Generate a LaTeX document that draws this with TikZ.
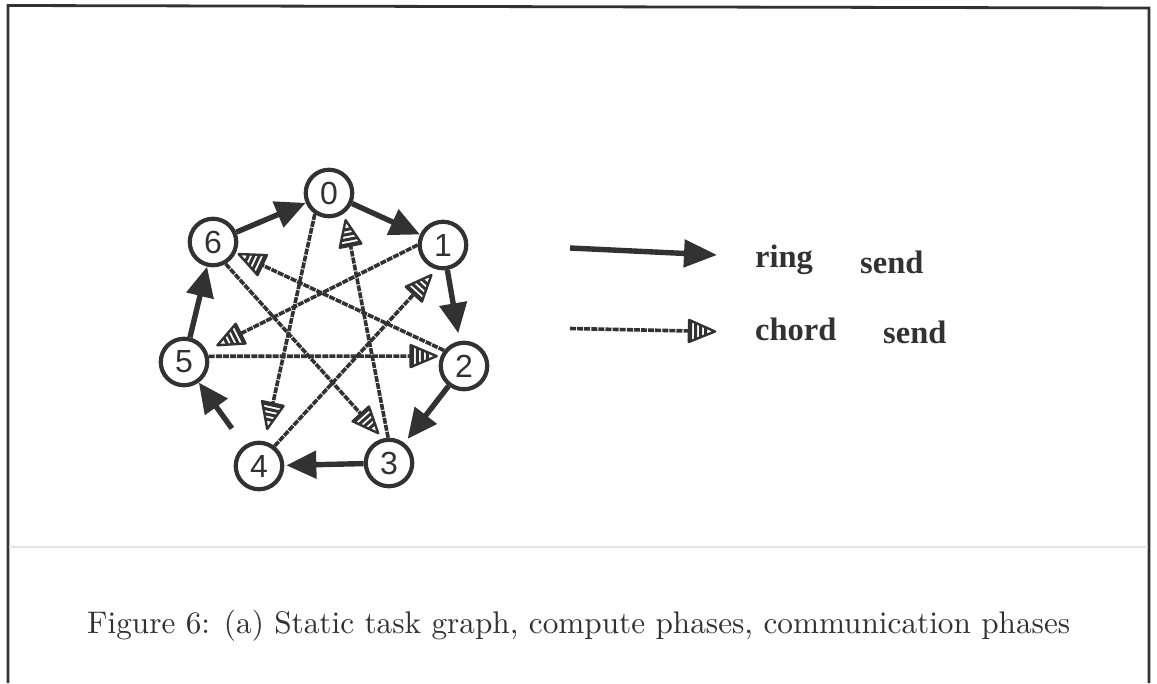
\documentclass[tikz,border=0pt]{standalone}
\usepackage{fontspec}
\newfontfamily\legendfont{Liberation Serif}
\newfontfamily\nodefont{Liberation Sans}
\usetikzlibrary{arrows.meta,decorations.markings}
\definecolor{ink}{RGB}{50,50,50}
\newcommand{\hatchhead}{%
  \begin{scope}[solid, shorten >=0pt, shorten <=0pt]
    \fill[white] (0,0) -- (-26,11) -- (-26,-11) -- cycle;
    \begin{scope}
      \clip (0,0) -- (-26,11) -- (-26,-11) -- cycle;
      \foreach \k in {-24.4,-19.4,-14.4,-9.4}
        \draw[ink, line width=3] (\k,-13) -- (\k,13);
    \end{scope}
    \draw[ink, line width=2.4, line join=round] (0,0) -- (-26,11) -- (-26,-11) -- cycle;
  \end{scope}}
\tikzset{
  task/.style={circle, draw=ink, line width=4.2, minimum size=46.5pt, inner sep=0pt,
    font=\nodefont\fontsize{32}{34}\selectfont, text=ink, fill=white},
  ring/.style={ink, line width=5.4, -{Triangle[length=30pt,width=27pt]}},
  chord/.style={ink, line width=3.6, dash pattern=on 6pt off 1.1pt,
    shorten >=#1pt+24pt,
    postaction={decorate, decoration={markings, mark=at position -#1pt with {\hatchhead}}}},
  legtext/.style={font=\legendfont\bfseries\fontsize{32.5}{36}\selectfont, text=ink, inner sep=0pt, anchor=base west}
}
\begin{document}
\begin{tikzpicture}[x=1pt,y=-1pt]
\useasboundingbox (0,0) rectangle (1157,683);
\fill[white] (0,0) rectangle (1157,683);
% frame
\draw[ink, line width=2.8] (8,683) -- (8,5.5) -- (1149,8) -- (1149,683);
\draw[gray!22, line width=1.5] (9,547) -- (1148,547);

% nodes
\node[task] (n0) at (329,193) {0};
\node[task] (n1) at (443,245) {1};
\node[task] (n2) at (464,366) {2};
\node[task] (n3) at (389,463) {3};
\node[task] (n4) at (259,466) {4};
\node[task] (n5) at (184,362) {5};
\node[task] (n6) at (213,242) {6};

% chords
\draw[chord=12.6] (n0.-124) -- (n4);
\draw[chord=7] (n3.92) -- (n0.-53);
\draw[chord=7] (n6.-60) -- (n3.104);
\draw[chord=3] (n2.142) -- (n6);
\draw[chord=12] (n1.180) -- (n5);
\draw[chord=4] (n5.13) -- (n2.157);
\draw[chord=7.5] (n4.52) -- (n1.-105);

% ring
\draw[ring] (n6) -- (n0);
\draw[ring] (n0) -- (n1);
\draw[ring, shorten >=8pt] (n1) -- (n2);
\draw[ring, shorten >=5pt] (n2) -- (n3);
\draw[ring, shorten >=2pt] (n3) -- (n4);
\draw[ring, shorten <=21pt] (n4) -- (n5);
\draw[ring] (n5) -- (n6);

% legend
\coordinate (ra) at (570,248);
\coordinate (rb) at (717,255);
\coordinate (ca) at (570,328.5);
\coordinate (cb) at (715,331.5);
\draw[ring, -{Triangle[length=33pt,width=27pt]}] (ra) -- (rb);
\draw[chord=0.01] (ca) -- (cb);
\node[legtext] (lr) at (755,267) {ring};
\node[legtext] (ls1) at (860,273) {send};
\node[legtext] (lc) at (755,340) {chord};
\node[legtext] (ls2) at (883,343) {send};

% caption
\node[anchor=base west, inner sep=0pt, text=ink] (cap) at (87,633)
  {\resizebox{983pt}{!}{Figure 6: (a) Static task graph, compute phases, communication phases}};
\end{tikzpicture}
\end{document}
